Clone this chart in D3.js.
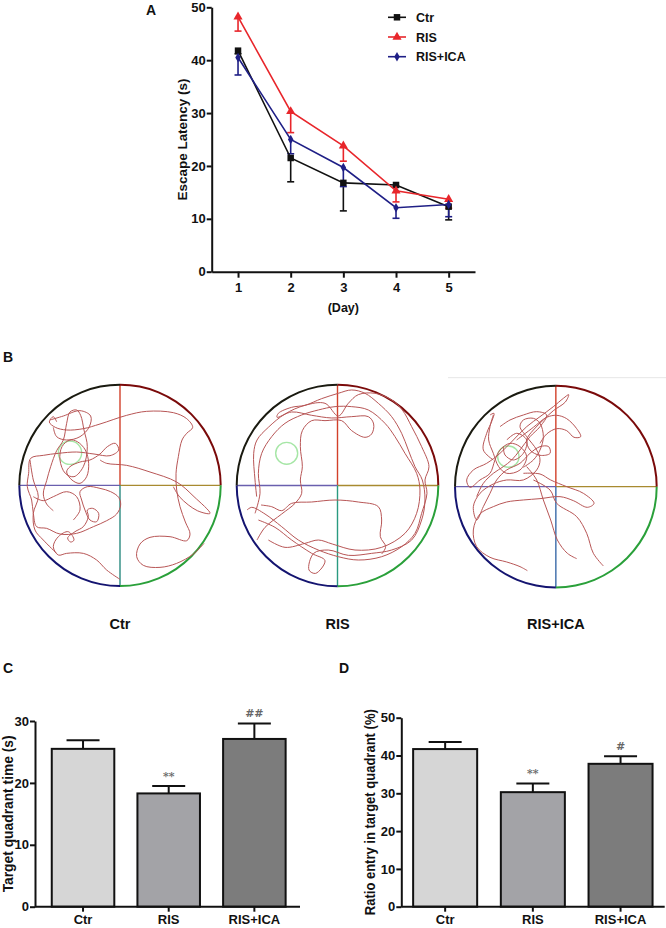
<!DOCTYPE html>
<html>
<head>
<meta charset="utf-8">
<script src="https://d3js.org/d3.v7.min.js"></script>
<style>
  body { margin: 0; background: #fff; }
  svg text { font-family: "Liberation Sans", Arial, sans-serif; font-weight: bold; fill: #111; }
</style>
</head>
<body>
<svg id="fig" width="666" height="928"></svg>
<script>
// ---------- data ----------
var days = [1, 2, 3, 4, 5];
var groups = ["Ctr", "RIS", "RIS+ICA"];

// panel A: escape latency (s), mean and lower SEM
var ctrLatency = [41.8, 21.5, 16.8, 16.4, 12.3];
var ctrSem     = [0.6, 4.5, 5.3, 0.3, 2.5];
var risLatency = [48.2, 30.3, 23.8, 15.3, 13.7];
var risSem     = [2.7, 4.0, 2.9, 2.1, 1.7];
var icaLatency = [40.5, 25.0, 19.7, 12.1, 12.7];
var icaSem     = [3.3, 2.7, 3.6, 2.0, 2.3];
var latencyTicks = [0, 10, 20, 30, 40, 50];

// panel C: target quadrant time (s)
var quadTime    = [25.5, 18.3, 27.1];
var quadTimeSem = [1.4, 1.2, 2.5];
var quadTimeMarks = ["", "**", "##"];
var quadTimeTicks = [0, 10, 20, 30];

// panel D: ratio entry in target quadrant (%)
var entryRatio    = [41.7, 30.3, 37.8];
var entryRatioSem = [1.9, 2.3, 2.0];
var entryRatioMarks = ["", "**", "#"];
var entryRatioTicks = [0, 10, 20, 30, 40, 50];

// panel B: swim tracks, in tracker pixel units (pool bounds per image)
var ctrPool = {x: [58, 662], y: [132, 740], platform: [210, 338, 35]};
var ctrTrack = [
  [[360,718],[320,690],[290,660],[250,640],[200,640],[175,645],[160,620],[175,590],[205,575],[222,600],[212,606],[203,594],[225,575],[250,560],[265,530],[262,510],[278,505],[296,520],[290,545],[270,540],[255,510],[245,480],[240,455],[262,440],[300,445],[332,455],[356,472],[362,495],[350,522],[320,542],[280,560],[230,580],[180,582],[140,565],[110,560],[100,520],[95,480],[82,440],[86,400],[92,355],[130,346],[175,340],[230,336],[282,342],[330,347],[356,330],[346,310],[322,320],[300,342],[270,360],[240,366],[210,380],[200,396],[216,420],[240,430],[260,410],[266,370],[256,330],[232,305],[210,300],[186,320],[180,360],[196,400],[222,410],[250,380],[262,320],[252,270],[242,226],[230,210],[210,216],[200,250],[190,300],[170,332],[152,380],[140,422],[130,462],[140,492],[160,512]],
  [[170,245],[160,230],[148,246],[166,262],[200,270],[250,266],[300,252],[380,226],[440,214],[520,218],[560,236],[578,262],[560,280],[546,300],[535,350],[528,400],[530,450],[540,500],[556,546],[570,582],[560,602],[510,590],[450,592],[420,612],[410,650],[430,676],[480,682],[530,670],[580,642],[612,610]],
  [[300,360],[320,370],[380,376],[450,396],[530,426],[582,470],[630,520],[592,512],[540,472],[520,440]],
  [[90,360],[100,420],[115,470],[100,520],[105,570],[130,600],[170,640]],
  [[150,240],[190,228],[240,212],[272,228],[268,260],[240,290],[200,300],[170,290],[160,262]],
  [[100,470],[130,482],[160,470],[200,455],[230,470],[240,510],[220,540]]
];

var risPool = {x: [35, 640], y: [133, 740], platform: [185, 340, 33]};
var risTrack = [
  [[95,470],[90,420],[86,340],[96,300],[130,262],[180,222],[240,196],[300,190],[340,228],[370,190],[400,164],[450,160],[500,180],[532,210],[560,260],[590,320],[612,380],[600,420],[606,460],[590,520],[570,580],[530,620],[470,650],[400,660],[340,650],[280,630],[220,600],[170,560],[120,522],[80,502],[66,510]],
  [[100,540],[150,562],[200,600],[260,640],[300,662],[272,700],[252,690],[266,640],[310,630],[370,646],[440,640],[500,630],[560,600],[590,540],[600,480],[592,420],[570,380],[550,330],[530,280],[500,230],[460,190],[420,160],[380,150],[340,160],[290,176],[240,196],[200,202],[160,220],[156,232],[200,216],[260,226],[320,234],[380,230],[430,230],[446,252],[440,282],[420,292],[380,272],[350,242],[300,242],[260,242],[232,272],[226,320],[232,380],[226,420],[230,460],[210,490],[170,522],[120,562],[96,600]],
  [[108,495],[140,500],[170,512],[200,490],[260,486],[330,480],[400,486],[460,500],[470,540],[466,590],[482,620],[470,642]],
  [[130,600],[180,622],[240,610],[280,600],[322,612],[390,630],[470,622],[540,580],[575,520],[585,450],[575,400],[540,340],[510,290],[480,250],[430,210],[380,200],[330,200],[280,210],[230,225],[180,250],[140,290],[110,340],[100,400],[105,460],[90,520]]
];

var icaPool = {x: [45, 650], y: [135, 745], platform: [205, 350, 32]};
var icaTrack = [
  [[160,225],[150,260],[146,300],[160,340],[176,380],[200,400],[240,390],[260,350],[240,320],[210,310],[180,330],[165,360],[150,400],[120,420],[90,442],[80,420],[100,390],[140,370],[180,340],[220,300],[260,260],[300,230],[340,200],[370,175],[386,164],[376,186],[340,212],[310,240],[280,270],[260,300],[270,330],[300,346],[330,340],[326,320],[300,320],[270,340],[240,370],[200,390],[170,420],[150,460],[130,500],[110,540],[100,500],[120,460],[160,432],[200,420],[250,420],[290,390],[300,360],[290,330],[260,290],[240,260],[250,240],[280,235],[300,250],[310,290],[300,330],[280,360],[250,382]],
  [[230,300],[280,262],[320,232],[350,226],[380,236],[410,266],[422,290],[402,292],[380,272],[350,266],[320,282],[300,310]],
  [[250,400],[300,402],[332,420],[380,440],[430,460],[462,490],[442,502],[400,482],[360,470],[300,476],[250,480],[200,486],[160,500],[120,522],[100,570],[110,620],[150,652],[200,666],[240,680],[262,692]],
  [[260,380],[290,420],[310,480],[332,540],[352,600],[382,640],[410,656]],
  [[280,420],[330,450],[350,490],[410,530],[440,580],[460,640],[490,678]],
  [[150,225],[162,220],[156,242],[140,280],[130,330],[160,360]],
  [[180,260],[210,240],[250,225],[290,215],[320,225],[300,260],[270,290],[240,330],[215,360],[190,380],[160,400],[130,430],[110,470]],
  [[200,300],[230,280],[260,300],[250,340],[220,360],[195,345],[190,320]]
];

// ---------- drawing ----------
var svg = d3.select("#fig");
var red = "#e8262b", navy = "#1f1f86";

function panelLabel(t, x, y) {
  svg.append("text").attr("x", x).attr("y", y).attr("font-size", 14).text(t);
}
function styleAxis(size) {
  return function (g) {
    g.select(".domain").attr("stroke", "#111").attr("stroke-width", 2);
    g.selectAll(".tick line").attr("stroke", "#111").attr("stroke-width", 2);
    g.selectAll(".tick text").attr("font-size", size).attr("font-family", "Liberation Sans, Arial, sans-serif")
      .attr("font-weight", "bold").attr("fill", "#111");
  };
}

// ----- panel A -----
panelLabel("A", 146, 15);
var xA = d3.scaleLinear().domain([0.5, 5.5]).range([211.7, 475]);
var yA = d3.scaleLinear().domain([0, 50]).range([271.7, 7.3]);

svg.append("g").attr("transform", "translate(0," + yA(0) + ")")
  .call(d3.axisBottom(xA).tickValues(days).tickFormat(d3.format("d")).tickSize(6).tickSizeOuter(0).tickPadding(5))
  .call(styleAxis(13));
svg.append("g").attr("transform", "translate(" + xA(0.5) + ",0)")
  .call(d3.axisLeft(yA).tickValues(latencyTicks).tickSize(5).tickSizeOuter(0).tickPadding(1))
  .call(styleAxis(13));

svg.append("text").attr("transform", "translate(187," + yA(25) + ") rotate(-90)")
  .attr("text-anchor", "middle").attr("font-size", 13.5)
  .attr("textLength", 122).attr("lengthAdjust", "spacingAndGlyphs").text("Escape Latency (s)");
svg.append("text").attr("x", xA(3)).attr("y", 312).attr("text-anchor", "middle")
  .attr("font-size", 12.5).text("(Day)");

var seriesA = [
  {name: "Ctr", vals: ctrLatency, sem: ctrSem, color: "#111", sym: d3.symbolSquare, size: 42},
  {name: "RIS", vals: risLatency, sem: risSem, color: red, sym: d3.symbolTriangle, size: 36},
  {name: "RIS+ICA", vals: icaLatency, sem: icaSem, color: navy, sym: d3.symbolDiamond, size: 26}
];
var lineA = d3.line().x(function (d, i) { return xA(days[i]); }).y(function (d) { return yA(d); });

seriesA.forEach(function (s) {
  var g = svg.append("g");
  s.vals.forEach(function (v, i) {
    var x = xA(days[i]), y0 = yA(v), y1 = yA(v - s.sem[i]);
    g.append("line").attr("x1", x).attr("x2", x).attr("y1", y0).attr("y2", y1)
      .attr("stroke", s.color).attr("stroke-width", 1.6);
    g.append("line").attr("x1", x - 3.5).attr("x2", x + 3.5).attr("y1", y1).attr("y2", y1)
      .attr("stroke", s.color).attr("stroke-width", 1.6);
  });
});
seriesA.forEach(function (s) {
  svg.append("path").attr("d", lineA(s.vals)).attr("fill", "none")
    .attr("stroke", s.color).attr("stroke-width", 1.6);
  svg.selectAll(null).data(s.vals).enter().append("path")
    .attr("transform", function (d, i) { return "translate(" + xA(days[i]) + "," + yA(d) + ")"; })
    .attr("d", d3.symbol().type(s.sym).size(s.size)).attr("fill", s.color);
});

// legend
seriesA.forEach(function (s, i) {
  var y = 17.3 + i * 19.7;
  svg.append("line").attr("x1", 388).attr("x2", 406).attr("y1", y).attr("y2", y)
    .attr("stroke", s.color).attr("stroke-width", 1.6);
  svg.append("path").attr("transform", "translate(397," + y + ")")
    .attr("d", d3.symbol().type(s.sym).size(s.size)).attr("fill", s.color);
  svg.append("text").attr("x", 416).attr("y", y + 4.5).attr("font-size", 12.5).text(s.name);
});

// ----- panel B -----
panelLabel("B", 3, 362);
svg.append("line").attr("x1", 448).attr("x2", 666).attr("y1", 377.7).attr("y2", 377.7)
  .attr("stroke", "#e6e6e6").attr("stroke-width", 1);

var pools = [
  {name: "Ctr", pool: ctrPool, track: ctrTrack, rx: [19.3, 220.7], ry: [384, 586.7], vcol: "#2a8a80"},
  {name: "RIS", pool: risPool, track: risTrack, rx: [236.7, 438.3], ry: [384.3, 586.7], vcol: "#2a9a80"},
  {name: "RIS+ICA", pool: icaPool, track: icaTrack, rx: [455, 656.7], ry: [385, 588.3], vcol: "#3a6aa8"}
];
var arcColors = ["#7a0a0a", "#2aa03a", "#141470", "#1a1a10"];

pools.forEach(function (p) {
  var sx = d3.scaleLinear().domain(p.pool.x).range(p.rx);
  var sy = d3.scaleLinear().domain(p.pool.y).range(p.ry);
  var cx = sx((p.pool.x[0] + p.pool.x[1]) / 2), cy = sy((p.pool.y[0] + p.pool.y[1]) / 2);
  var r = (p.rx[1] - p.rx[0]) / 2;
  var g = svg.append("g");

  // quadrant lines
  g.append("line").attr("x1", cx).attr("x2", cx).attr("y1", cy - r).attr("y2", cy).attr("stroke", "#d2402a").attr("stroke-width", 1.4);
  g.append("line").attr("x1", cx).attr("x2", cx + r).attr("y1", cy).attr("y2", cy).attr("stroke", "#a88a30").attr("stroke-width", 1.4);
  g.append("line").attr("x1", cx - r).attr("x2", cx).attr("y1", cy).attr("y2", cy).attr("stroke", "#6a5fae").attr("stroke-width", 1.4);
  g.append("line").attr("x1", cx).attr("x2", cx).attr("y1", cy).attr("y2", cy + r).attr("stroke", p.vcol).attr("stroke-width", 1.4);

  // pool rim, one arc per quadrant
  var arc = d3.arc().innerRadius(r - 1).outerRadius(r + 1);
  arcColors.forEach(function (c, i) {
    g.append("path").attr("transform", "translate(" + cx + "," + cy + ")")
      .attr("d", arc({startAngle: i * Math.PI / 2, endAngle: (i + 1) * Math.PI / 2}))
      .attr("fill", c);
  });

  // platform
  g.append("circle").attr("cx", sx(p.pool.platform[0])).attr("cy", sy(p.pool.platform[1]))
    .attr("r", sx(p.pool.platform[0] + p.pool.platform[2]) - sx(p.pool.platform[0]))
    .attr("fill", "none").attr("stroke", "#a6e6a6").attr("stroke-width", 1.4);

  // swim track
  var line = d3.line().x(function (d) { return sx(d[0]); }).y(function (d) { return sy(d[1]); })
    .curve(d3.curveCatmullRom.alpha(0.5));
  p.track.forEach(function (seg) {
    g.append("path").attr("d", line(seg)).attr("fill", "none")
      .attr("stroke", "#b85656").attr("stroke-width", 1);
  });

  svg.append("text").attr("x", cx).attr("y", 629).attr("text-anchor", "middle")
    .attr("font-size", 14.5).text(p.name);
});

// ----- panels C and D -----
var fills = ["#d6d6d6", "#a3a3a7", "#7c7c7c"];

function barPanel(opt) {
  var x = d3.scaleBand().domain(groups).range(opt.xr).paddingInner(0.27).paddingOuter(0.135);
  var y = d3.scaleLinear().domain([0, opt.max]).range([906.7, opt.top]);
  var g = svg.append("g");

  opt.vals.forEach(function (v, i) {
    var cxb = x(groups[i]) + x.bandwidth() / 2, ye = y(v + opt.sem[i]);
    g.append("line").attr("x1", cxb).attr("x2", cxb).attr("y1", y(v)).attr("y2", ye)
      .attr("stroke", "#111").attr("stroke-width", 2);
    g.append("line").attr("x1", cxb - 16.5).attr("x2", cxb + 16.5).attr("y1", ye).attr("y2", ye)
      .attr("stroke", "#111").attr("stroke-width", 2);
    g.append("rect").attr("x", x(groups[i])).attr("y", y(v))
      .attr("width", x.bandwidth()).attr("height", y(0) - y(v))
      .attr("fill", fills[i]).attr("stroke", "#111").attr("stroke-width", 2);
    if (opt.marks[i]) {
      g.append("text").attr("x", cxb).attr("y", ye - 6).attr("text-anchor", "middle")
        .attr("font-size", 11).attr("font-weight", "normal")
        .style("fill", "#666").style("font-family", "DejaVu Serif, serif").text(opt.marks[i]);
    }
  });

  svg.append("g").attr("transform", "translate(0," + y(0) + ")")
    .call(d3.axisBottom(x).tickSize(5).tickSizeOuter(0).tickPadding(3))
    .call(styleAxis(13))
    .call(function (a) {
      a.select(".domain").attr("d", "M" + opt.axisX + ",0H" + opt.xEnd);
    });
  svg.append("g").attr("transform", "translate(" + opt.axisX + ",0)")
    .call(d3.axisLeft(y).tickValues(opt.ticks).tickSize(5).tickSizeOuter(0).tickPadding(1))
    .call(styleAxis(13));

  svg.append("text").attr("transform", "translate(" + opt.labelX + "," + y(opt.max / 2) + ") rotate(-90)")
    .attr("text-anchor", "middle").attr("font-size", opt.labelSize)
    .attr("textLength", opt.labelLen).attr("lengthAdjust", "spacingAndGlyphs").text(opt.label);
}

panelLabel("C", 3, 673);
barPanel({vals: quadTime, sem: quadTimeSem, marks: quadTimeMarks, ticks: quadTimeTicks,
  max: 30, top: 721, xr: [40.2, 297.2], axisX: 35, xEnd: 300,
  labelX: 12.5, labelSize: 14, labelLen: 157, label: "Target quadrant time (s)"});

panelLabel("D", 339, 673);
barPanel({vals: entryRatio, sem: entryRatioSem, marks: entryRatioMarks, ticks: entryRatioTicks,
  max: 50, top: 717.7, xr: [401.3, 664.4], axisX: 401.3, xEnd: 664.7,
  labelX: 375, labelSize: 14, labelLen: 206, label: "Ratio entry in target quadrant (%)"});
</script>
</body>
</html>
